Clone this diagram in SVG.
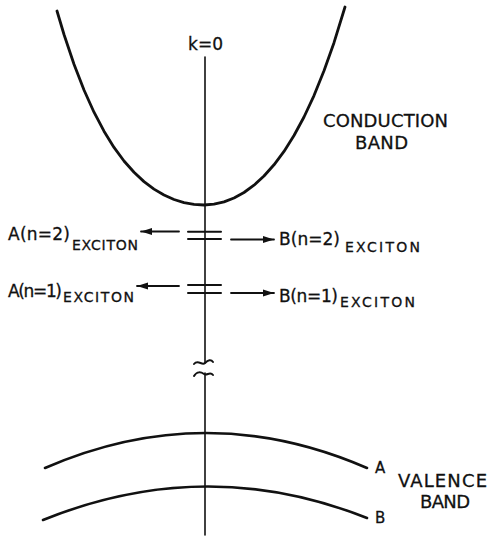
<svg xmlns="http://www.w3.org/2000/svg" width="495" height="537" viewBox="0 0 495 537">
<style>
text{font-family:"DejaVu Sans","Liberation Sans",sans-serif;fill:#111;stroke:#111;stroke-width:0.3}
.m{font-size:17px}
.s{font-size:14px}
.b{font-size:18px}
.ln{fill:none;stroke:#111;stroke-linecap:round;stroke-linejoin:round}
</style>
<defs>
<marker id="ah" markerWidth="12" markerHeight="8" refX="11" refY="4" orient="auto" markerUnits="userSpaceOnUse">
<path d="M0,0.5 L11,4 L0,7.5 Z" fill="#111"/>
</marker>
</defs>
<rect width="495" height="537" fill="#fff"/>
<g id="axis">
<line class="ln" x1="205" y1="57" x2="205" y2="363" stroke-width="1.6"/>
<line class="ln" x1="205" y1="373" x2="205" y2="535" stroke-width="1.6"/>
<path class="ln" stroke-width="2" d="M194,364 C198,359 202,366 205,363 S211,359 213,362"/>
<path class="ln" stroke-width="2" d="M194,376 C197,371 201,372 204,374 S210,371 213,375"/>
<text class="m" x="188" y="50" font-size="16" textLength="35">k=0</text>
</g>
<g id="conduction-band">
<polyline class="ln" stroke-width="2.8" points="57,11 64,34.5 74,64.3 84,90 94,112.2 104,131.2 114,147.4 124,161 134,172.3 144,181.6 154,189.1 164,195 174,199.5 184,202.6 194,204.4 204,205 214,204.2 224,201.9 234,198 244,192.5 254,185.2 264,176 274,164.8 284,151.4 294,135.5 304,117 314,95.6 324,70.8 334,42.7 345,7"/>
<text class="b" x="323" y="127" textLength="125">CONDUCTION</text>
<text class="b" x="355" y="149" textLength="53">BAND</text>
</g>
<g id="valence-band">
<path class="ln" stroke-width="2.6" d="M45,468 Q206,398 367,468"/>
<path class="ln" stroke-width="2.6" d="M43,520 Q206,454 367,518"/>
<text x="375" y="473" font-size="15">A</text>
<text x="375" y="523" font-size="15">B</text>
<text class="b" x="398" y="487" textLength="89">VALENCE</text>
<text class="b" x="420" y="508" textLength="50">BAND</text>
</g>
<g id="exciton-n2">
<line class="ln" x1="188" y1="231.7" x2="221" y2="231.7" stroke-width="2"/>
<line class="ln" x1="188" y1="239" x2="221" y2="239" stroke-width="2"/>
<text class="m" x="8" y="240" textLength="62">A(n=2)</text>
<text class="s" x="72" y="250" textLength="66">EXCITON</text>
<text class="m" x="279" y="245" textLength="61">B(n=2)</text>
<text class="s" x="345" y="252" textLength="75">EXCITON</text>
</g>
<g id="exciton-n1">
<line class="ln" x1="188" y1="285" x2="221" y2="285" stroke-width="2"/>
<line class="ln" x1="188" y1="293" x2="221" y2="293" stroke-width="2"/>
<text class="m" x="8" y="297" textLength="54">A(n=1)</text>
<text class="s" x="63" y="302" textLength="71">EXCITON</text>
<text class="m" x="279" y="302" textLength="59">B(n=1)</text>
<text class="s" x="340" y="307" textLength="75">EXCITON</text>
</g>
<g id="connectors">
<line class="ln" x1="179" y1="231.5" x2="141" y2="231.5" stroke-width="1.8" marker-end="url(#ah)"/>
<line class="ln" x1="231" y1="239.5" x2="274" y2="239.5" stroke-width="1.8" marker-end="url(#ah)"/>
<line class="ln" x1="179" y1="286" x2="137" y2="286" stroke-width="1.8" marker-end="url(#ah)"/>
<line class="ln" x1="231" y1="293" x2="274" y2="293" stroke-width="1.8" marker-end="url(#ah)"/>
</g>
</svg>
